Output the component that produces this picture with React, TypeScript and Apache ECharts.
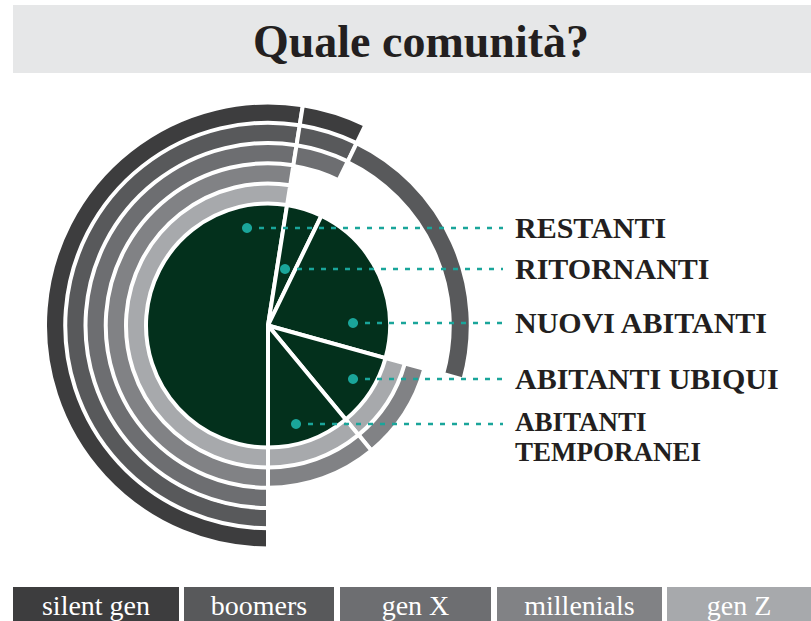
import React, { useEffect, useRef } from 'react';
import * as echarts from 'echarts';

// ---- data ----
const categories = ['RESTANTI', 'RITORNANTI', 'NUOVI ABITANTI', 'ABITANTI UBIQUI', 'ABITANTI TEMPORANEI'];
const categoryLabels = ['RESTANTI', 'RITORNANTI', 'NUOVI ABITANTI', 'ABITANTI UBIQUI', 'ABITANTI\nTEMPORANEI'];
const shares = [52.5, 4.7, 22.1, 9.7, 11.0];
const generations = ['silent gen', 'boomers', 'gen X', 'millenials', 'gen Z'];
const genColors = ['#3d3d3e', '#58595b', '#6d6e71', '#818285', '#a7a9ac'];
// presence of each generation in each category (same order as categories)
const silentGen = [1, 1, 0, 0, 0];
const boomers = [1, 1, 1, 0, 0];
const genX = [1, 1, 0, 0, 0];
const millenials = [1, 0, 0, 1, 1];
const genZ = [1, 0, 0, 1, 1];
const presence = [silentGen, boomers, genX, millenials, genZ];

// ---- layout ----
const CX = 268;
const CY = 325.5;
const PIE_R = 120;
const RING_START = 123;
const RING_PITCH = 20.25;
const RING_W = 17;
const rowY = [228, 269, 323, 379, 424];
const dotX = [247, 285, 353, 353, 296];
const legendSpans = [[13, 179], [184, 334], [340, 491], [497, 662], [667, 811]];

const GREEN = '#03301c';
const TEAL = '#1aa59a';
const SERIF = '"Liberation Serif", "DejaVu Serif", serif';

export default function App() {
  const ref = useRef<HTMLDivElement>(null);
  useEffect(() => {
    document.body.style.margin = '0';
    const chart = echarts.init(ref.current as HTMLDivElement, null, { renderer: 'svg' });

    const ringSeries = generations.map((g, gi) => {
      const k = generations.length - 1 - gi;
      const r0 = RING_START + k * RING_PITCH;
      const r1 = r0 + RING_W;
      return {
        type: 'pie',
        name: g,
        center: [CX, CY],
        radius: [r0 - 2, r1 + 2],
        startAngle: -90,
        clockwise: true,
        silent: true,
        z: 2,
        label: { show: false },
        labelLine: { show: false },
        emphasis: { disabled: true },
        data: categories.map((c, ci) => ({
          name: c,
          value: shares[ci],
          itemStyle: presence[gi][ci]
            ? { color: genColors[gi], borderColor: '#ffffff', borderWidth: 4 }
            : { color: 'rgba(0,0,0,0)', borderWidth: 0 },
        })),
      };
    });

    const pieSeries = {
      type: 'pie',
      name: 'comunità',
      center: [CX, CY],
      radius: [0, PIE_R + 2],
      startAngle: -90,
      clockwise: true,
      silent: true,
      z: 3,
      label: { show: false },
      labelLine: { show: false },
      emphasis: { disabled: true },
      itemStyle: { color: GREEN, borderColor: '#ffffff', borderWidth: 4, borderJoin: 'round' },
      data: categories.map((c, ci) => ({ name: c, value: shares[ci] })),
    };

    const graphics: any[] = [];
    graphics.push({
      type: 'rect',
      z: 0,
      shape: { x: 13, y: 5, width: 798, height: 68 },
      style: { fill: '#e6e7e8' },
    });
    categories.forEach((c, i) => {
      graphics.push({
        type: 'line',
        z: 100,
        shape: { x1: dotX[i], y1: rowY[i], x2: 503, y2: rowY[i] },
        style: { stroke: TEAL, lineWidth: 2.5, lineDash: [5, 7] },
      });
      graphics.push({
        type: 'circle',
        z: 101,
        shape: { cx: dotX[i], cy: rowY[i], r: 5 },
        style: { fill: TEAL },
      });
      const lines = categoryLabels[i].split('\n');
      lines.forEach((ln, li) => {
        graphics.push({
          type: 'text',
          z: 100,
          x: 515,
          y: rowY[i] - (lines.length > 1 ? 2 : 1) + li * 30,
          style: {
            text: ln,
            fill: '#231f20',
            fontFamily: SERIF,
            fontWeight: 'bold',
            fontSize: lines.length > 1 ? 27 : 30,
            align: 'left',
            verticalAlign: 'middle',
          },
        });
      });
    });
    generations.forEach((g, i) => {
      const [x0, x1] = legendSpans[i];
      graphics.push({
        type: 'rect',
        z: 100,
        shape: { x: x0, y: 587, width: x1 - x0, height: 40 },
        style: { fill: genColors[i] },
      });
      graphics.push({
        type: 'text',
        z: 101,
        x: (x0 + x1) / 2,
        y: 605,
        style: {
          text: g,
          fill: '#ffffff',
          fontFamily: SERIF,
          fontSize: 28,
          align: 'center',
          verticalAlign: 'middle',
        },
      });
    });

    chart.setOption({
      animation: false,
      backgroundColor: '#ffffff',
      title: {
        text: 'Quale comunità?',
        left: 416,
        top: 13,
        textAlign: 'center',
        textStyle: { fontFamily: SERIF, fontWeight: 'bold', fontSize: 46, color: '#231f20' },
        z: 10,
      },
      graphic: graphics,
      series: [...ringSeries, pieSeries],
    });

    return () => chart.dispose();
  }, []);

  return <div ref={ref} style={{ width: 811, height: 621 }} />;
}
